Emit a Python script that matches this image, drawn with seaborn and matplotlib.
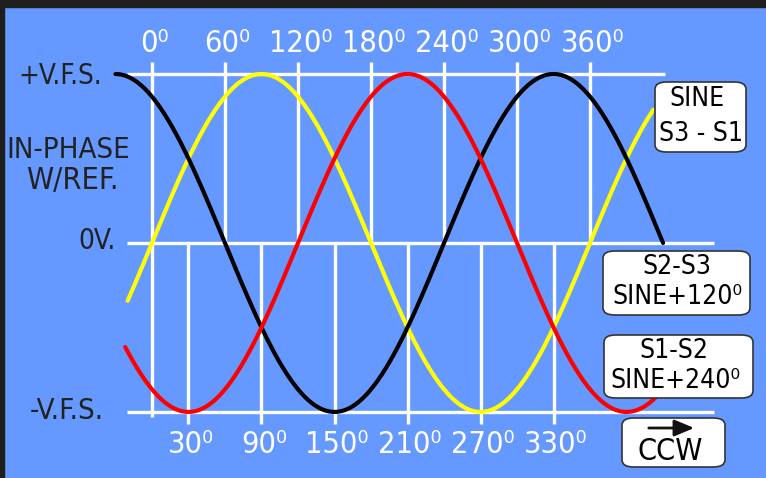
import numpy as np
import pandas as pd
import seaborn as sns
import matplotlib.pyplot as plt
from matplotlib.patches import FancyBboxPatch, FancyArrowPatch, Rectangle

# three synchro-difference waves: phase offset and drawn span (degrees)
waves = ["S3-S1", "S2-S3", "S1-S2"]
phase = [0, 120, 240]
start_deg = [-20, -30, -22]
end_deg = [412, 420, 423]
wave_colors = ["#FFFF00", "#000000", "#FF0000"]

top_ticks = [0, 60, 120, 180, 240, 300, 360]
bottom_ticks = [30, 90, 150, 210, 270, 330]
levels = [1, 0, -1]
level_end = [422, 462, 462]
level_labels = ["+V.F.S.", "0V.", "-V.F.S."]

W, H = 766, 478
BLUE = "#6699FF"

sns.set_style("white")
plt.rcParams["font.family"] = ["DejaVu Sans"]
plt.rcParams["font.stretch"] = "condensed"

rows = []
for name, ph, a, b in zip(waves, phase, start_deg, end_deg):
    deg = np.linspace(a, b, 400)
    rows.append(pd.DataFrame({"deg": deg,
                              "val": np.sin(np.radians(deg + ph)),
                              "wave": name}))
df = pd.concat(rows, ignore_index=True)

fig = plt.figure(figsize=(W / 100, H / 100), dpi=100)
fig.patch.set_facecolor(BLUE)
ax = fig.add_axes([0, 0, 1, 1])
ax.set_facecolor(BLUE)
ax.set_xlim(-124.9, 504.6)
ax.set_ylim(-1.391, 1.438)
ax.axis("off")


def px(x, y):
    return x / W, 1 - y / H


# white reference grid
grid_kw = dict(color="white", lw=2.4, solid_capstyle="butt", zorder=1)
for lv, e in zip(levels, level_end):
    ax.plot([-20.5, e], [lv, lv], **grid_kw)
for t in top_ticks:
    ax.plot([t, t], [1.071, 0], **grid_kw)
    ax.text(t + 2, 1.18, f"{t}\u2070", color="white", fontsize=22,
            ha="center", va="center")
ax.plot([0, 0], [0, -1.03], **grid_kw)
for t in bottom_ticks:
    ax.plot([t, t], [0, -1.071], **grid_kw)
    ax.text(t + 2, -1.19, f"{t}\u2070", color="white", fontsize=22,
            ha="center", va="center")

sns.lineplot(data=df, x="deg", y="val", hue="wave", hue_order=waves,
             palette=wave_colors, sort=False, estimator=None, lw=3,
             legend=False, ax=ax, zorder=3)
ax.axis("off")

# left-hand labels
txt = "#222222"
fig.text(*px(102, 76), level_labels[0], color=txt, fontsize=20,
         ha="right", va="center")
fig.text(*px(68, 150), "IN-PHASE", color=txt, fontsize=21,
         ha="center", va="center")
fig.text(*px(72, 180), "W/REF.", color=txt, fontsize=22,
         ha="center", va="center")
fig.text(*px(116, 241), level_labels[1], color=txt, fontsize=20,
         ha="right", va="center")
fig.text(*px(104, 411), level_labels[2], color=txt, fontsize=21,
         ha="right", va="center")

# right-hand boxed captions
boxes = [
    ((655, 82, 91, 70), [("SINE", 697, 99), ("S3 - S1", 701, 134)], 19),
    ((603, 251, 147, 64), [("S2-S3", 677, 267), ("SINE+120\u2070", 677, 297)], 19),
    ((604, 335, 149, 63), [("S1-S2", 674, 351), ("SINE+240\u2070", 675, 381)], 19),
    ((622, 418, 103, 49), [("CCW", 670, 451)], 22),
]
for (x0, y0, w, h), lines, fs in boxes:
    fig.patches.append(FancyBboxPatch(
        px(x0, y0 + h), w / W, h / H, transform=fig.transFigure,
        boxstyle="round,pad=0,rounding_size=0.015",
        fc="white", ec="#333333", lw=1.2, zorder=4))
    for s, tx, ty in lines:
        fig.text(*px(tx, ty), s, color="black", fontsize=fs,
                 ha="center", va="center", zorder=5)

fig.patches.append(FancyArrowPatch(
    px(646, 428), px(697, 428), transform=fig.transFigure,
    arrowstyle="-|>,head_length=12,head_width=5", mutation_scale=1,
    color="#111111", lw=2.0, zorder=6))

# dark frame along top and left edges
fig.patches.append(Rectangle(px(0, 7), 1, 7 / H, transform=fig.transFigure,
                             color="#1e1e1e", zorder=10))
fig.patches.append(Rectangle(px(0, H), 4 / W, 1, transform=fig.transFigure,
                             color="#1e1e1e", zorder=10))

fig.savefig("out.png", dpi=100, facecolor=BLUE)
